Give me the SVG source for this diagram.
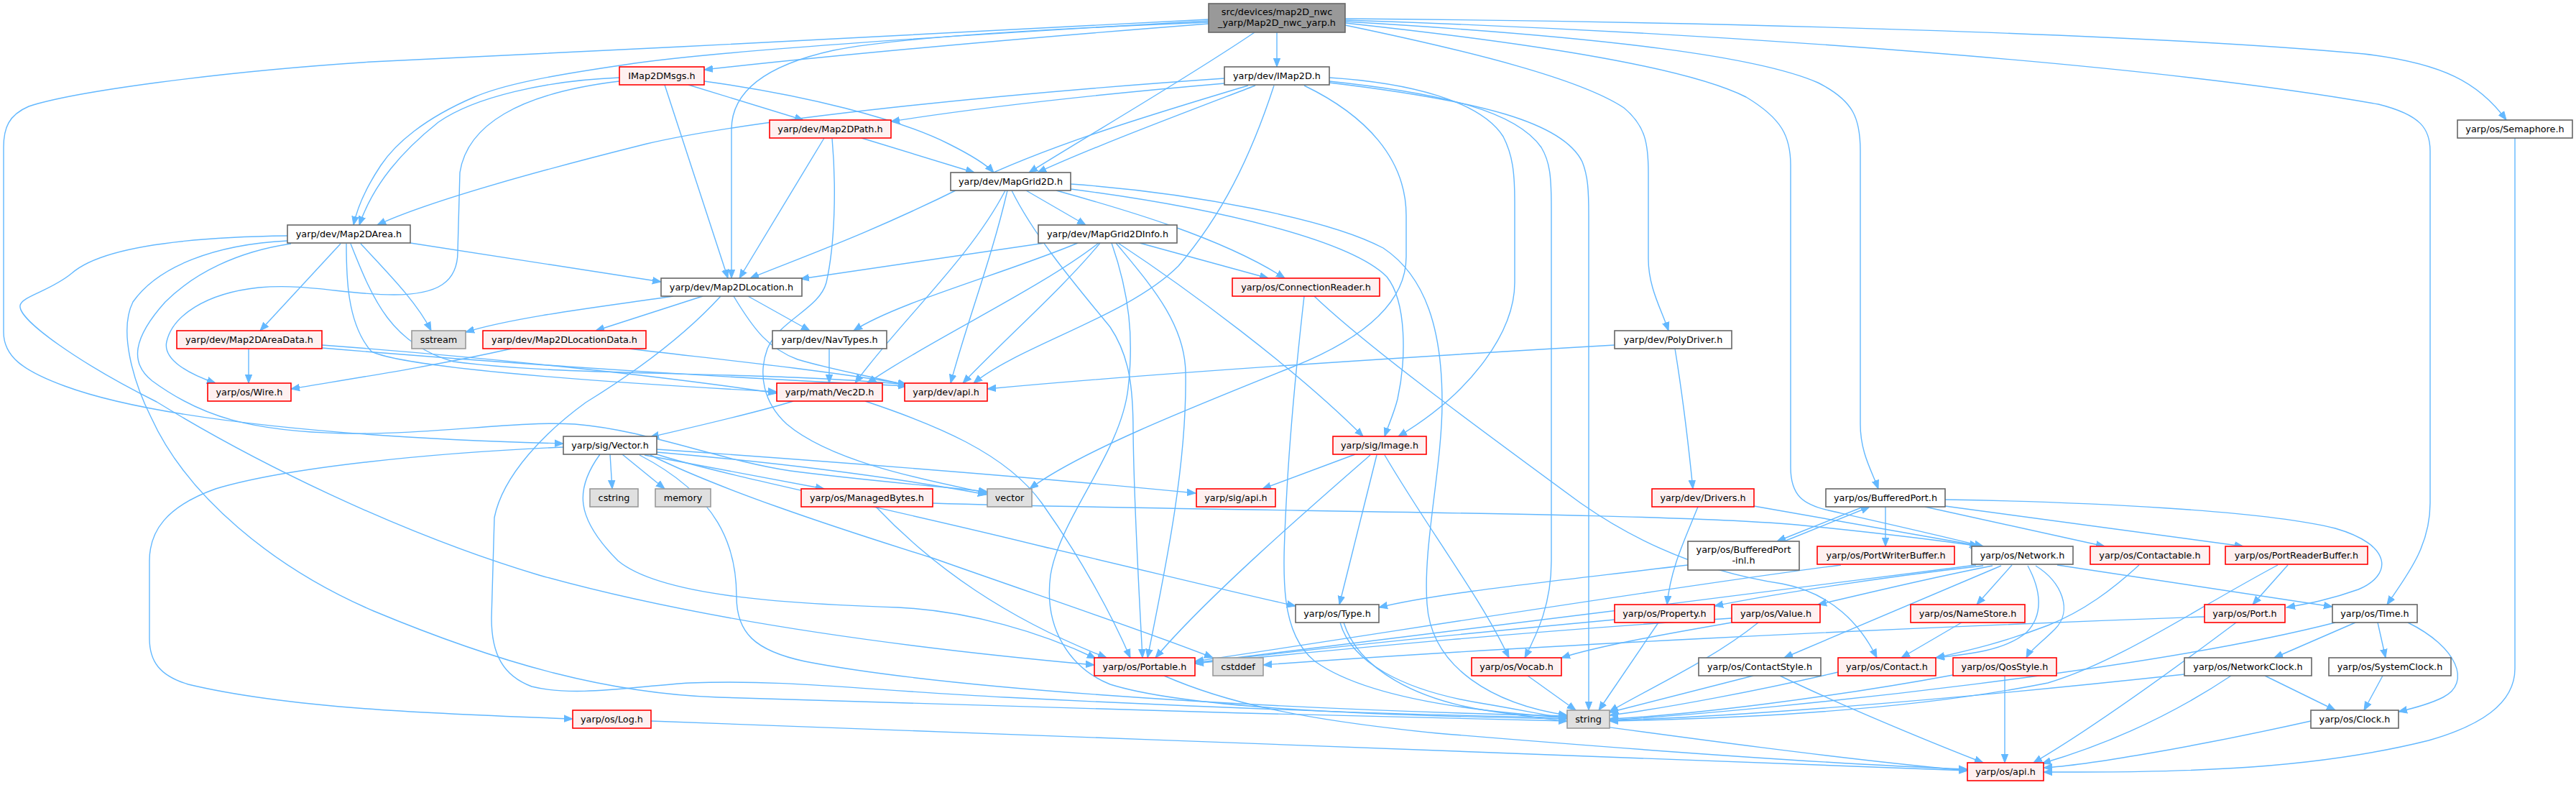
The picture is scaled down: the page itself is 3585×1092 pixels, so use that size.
<svg xmlns="http://www.w3.org/2000/svg" width="3585" height="1092" viewBox="0 0 3585 1092">
<style>
rect{stroke-width:1.6}
.w{fill:#ffffff;stroke:#666666}
.r{fill:#fff0f0;stroke:#ff0000}
.g{fill:#e0e0e0;stroke:#999999}
.root{fill:#999999;stroke:#666666}
text{font-family:"DejaVu Sans","Liberation Sans",sans-serif;font-size:12.8px;text-anchor:middle;fill:#000000}
#edges path{fill:none;stroke:#63b8ff;stroke-width:1.4;marker-end:url(#a)}
</style>
<defs>
<marker id="a" markerWidth="13" markerHeight="11" refX="12" refY="5.5" orient="auto" markerUnits="userSpaceOnUse">
<path d="M0,0.8 L12,5.5 L0,10.2 z" fill="#63b8ff" stroke="#63b8ff" stroke-width="1"/>
</marker>
</defs>
<rect width="3585" height="1092" fill="#ffffff"/>
<g id="edges">
<path d="M1682,27 C1400,42 900,68 517,86 C300,100 100,128 40,148 C12,160 5,178 5,205 L5,462 C5,495 30,515 90,537 C220,585 500,610 784,617"/>
<path d="M1682,29 C1350,48 1000,70 870,90 C760,106 700,118 660,135 C590,165 550,200 530,230 C510,260 498,285 492,313"/>
<path d="M1682,31 C1450,40 1250,52 1160,70 C1060,92 1018,130 1018,180 L1018,387"/>
<path d="M1682,33 C1400,55 1150,78 980,97"/>
<path d="M1746,45 C1650,110 1520,185 1432,240"/>
<path d="M1777,45 L1777,93"/>
<path d="M1872,26 C2400,30 3000,48 3290,75 C3400,88 3450,115 3488,167"/>
<path d="M1872,28 C2400,45 3000,90 3310,145 C3370,160 3382,180 3382,210 L3382,700 C3382,760 3350,800 3322,841"/>
<path d="M1872,30 C2250,52 2450,80 2530,115 C2580,140 2589,165 2589,210 L2589,590 C2589,630 2605,655 2614,680"/>
<path d="M1872,32 C2150,62 2350,95 2430,135 C2480,165 2492,190 2492,230 L2492,650 C2492,690 2510,702 2545,710 C2620,727 2700,745 2760,760"/>
<path d="M1872,35 C2050,72 2200,110 2260,150 C2290,175 2294,200 2294,240 L2294,360 C2294,400 2312,430 2322,460"/>
<path d="M980,113 C1120,132 1250,165 1320,200 C1350,215 1372,228 1383,240"/>
<path d="M958,118 L1118,167"/>
<path d="M925,118 L1013,387"/>
<path d="M862,108 C760,112 660,135 610,170 C560,210 520,255 500,313"/>
<path d="M862,113 C720,130 650,175 640,240 L637,350 C637,392 610,410 548,410 C480,410 430,394 360,400 C285,408 240,440 232,475 C226,500 262,520 300,533"/>
<path d="M1704,109 C1400,130 1050,165 900,200 C760,235 600,278 525,313"/>
<path d="M1704,116 C1520,132 1360,150 1240,169"/>
<path d="M1737,119 C1600,160 1450,205 1340,260 C1210,325 1110,360 1044,387"/>
<path d="M1747,119 C1640,160 1520,205 1444,240"/>
<path d="M1773,119 C1740,220 1700,300 1640,370 C1570,440 1420,480 1355,533"/>
<path d="M1815,119 C1900,160 1957,220 1957,300 L1957,357 C1957,420 1900,470 1800,510 C1650,570 1500,630 1433,680"/>
<path d="M1850,108 C1960,115 2060,140 2092,190 C2105,215 2108,240 2108,280 L2108,393 C2108,460 2050,545 1946,607"/>
<path d="M1850,113 C2010,130 2110,155 2145,205 C2157,225 2159,245 2159,290 L2159,780 C2159,840 2140,880 2122,915"/>
<path d="M1850,115 C2060,140 2175,170 2202,225 C2210,245 2211,265 2211,300 L2211,988"/>
<path d="M1199,192 L1356,240"/>
<path d="M1147,192 L1029,387"/>
<path d="M1158,192 C1164,260 1162,340 1150,393 C1140,430 1085,445 1068,485 C1055,520 1062,560 1095,590 C1160,645 1300,670 1374,686"/>
<path d="M1428,265 L1511,313"/>
<path d="M1399,265 C1350,360 1250,450 1190,533"/>
<path d="M1402,265 C1380,360 1345,450 1323,533"/>
<path d="M1408,265 C1440,330 1500,400 1545,455 C1572,495 1577,540 1577,600 C1578,700 1585,820 1590,915"/>
<path d="M1470,265 C1560,290 1700,330 1788,387"/>
<path d="M1490,263 C1700,290 1880,335 1930,385 C1958,420 1957,500 1945,555 C1940,575 1932,592 1927,607"/>
<path d="M1490,256 C1660,268 1850,305 1925,345 C1985,385 2007,460 2007,560 C2007,650 1980,760 1986,840 C1992,930 2080,980 2181,995"/>
<path d="M1454,338 C1300,360 1200,375 1114,388"/>
<path d="M1500,338 C1400,380 1250,420 1188,460"/>
<path d="M1529,338 C1450,400 1300,470 1207,533"/>
<path d="M1531,338 C1480,400 1400,470 1340,533"/>
<path d="M1556,338 C1650,400 1800,510 1897,607"/>
<path d="M1586,338 L1765,387"/>
<path d="M1547,338 C1572,410 1578,470 1570,540 C1560,630 1475,720 1462,800 C1452,875 1490,930 1545,952 C1650,985 1900,995 2181,1000"/>
<path d="M1553,338 C1600,395 1650,450 1650,520 C1652,650 1620,800 1597,915"/>
<path d="M474,339 L362,460"/>
<path d="M502,339 C540,380 580,420 600,460"/>
<path d="M571,338 L920,392"/>
<path d="M482,339 C482,380 482,450 517,489 C560,510 800,530 1081,545"/>
<path d="M488,339 C520,420 545,478 631,503 C800,525 1050,515 1262,535"/>
<path d="M400,328 C250,330 140,345 100,380 C70,405 30,412 28,425 C25,445 110,505 218,559 C350,640 550,740 750,800 C1000,870 1300,905 1523,925"/>
<path d="M400,335 C300,340 220,370 185,420 C165,460 185,530 210,580 C260,690 380,790 520,850 C700,925 850,965 1000,970 C1300,980 1800,995 2181,1003"/>
<path d="M405,339 C330,350 270,380 230,420 C185,470 180,505 212,530 C280,580 350,600 480,603 C600,605 720,585 800,590 C900,598 1000,640 1100,655 C1200,668 1300,676 1374,684"/>
<path d="M937,412 C850,425 720,440 648,462"/>
<path d="M978,412 L829,460"/>
<path d="M1003,412 C950,470 880,520 815,560 C760,600 700,660 688,720 L684,860 C684,910 700,940 740,955 C800,970 880,955 960,950 C1100,945 1200,960 1400,970 C1700,985 1950,995 2181,998"/>
<path d="M1021,412 C1050,460 1070,485 1110,500 C1160,515 1220,525 1262,536"/>
<path d="M1041,412 L1127,460"/>
<path d="M346,485 L346,533"/>
<path d="M448,480 C650,495 900,520 1081,547"/>
<path d="M448,484 C700,505 1000,525 1262,537"/>
<path d="M712,485 C600,510 500,525 405,541"/>
<path d="M875,485 C1000,500 1150,515 1262,535"/>
<path d="M1154,485 L1154,533"/>
<path d="M2247,480 C1900,500 1600,520 1374,541"/>
<path d="M2331,485 C2340,540 2350,620 2356,680"/>
<path d="M1104,558 C1050,575 960,595 905,608"/>
<path d="M1204,558 C1300,590 1400,630 1450,700 C1500,770 1545,850 1573,915"/>
<path d="M849,632 L852,680"/>
<path d="M866,632 L925,680"/>
<path d="M897,633 L1147,680"/>
<path d="M914,629 C1100,645 1250,665 1373,688"/>
<path d="M914,625 C1200,645 1450,665 1664,686"/>
<path d="M835,632 C800,680 800,720 860,780 C920,830 1100,840 1250,845 C1350,850 1450,880 1525,916"/>
<path d="M784,622 C600,630 400,650 300,680 C230,705 208,740 208,780 L208,888 C208,920 222,940 262,952 C400,985 600,993 797,1000"/>
<path d="M914,632 C1000,660 1250,710 1450,760 C1600,795 1700,820 1803,843"/>
<path d="M890,633 C1000,690 1025,760 1025,830 C1025,880 1050,905 1120,920 C1300,955 1700,985 2181,996"/>
<path d="M905,633 C1000,680 1150,730 1300,777 C1450,830 1600,880 1688,915"/>
<path d="M1886,632 L1757,680"/>
<path d="M1907,633 C1830,700 1680,830 1608,915"/>
<path d="M1916,633 L1864,841"/>
<path d="M1927,633 C1990,740 2060,830 2100,915"/>
<path d="M1219,705 C1300,790 1400,860 1540,915"/>
<path d="M1298,700 C1700,712 2300,712 2500,730 C2600,740 2700,752 2755,760"/>
<path d="M2593,705 L2473,753"/>
<path d="M2624,705 L2624,760"/>
<path d="M2679,705 L2929,760"/>
<path d="M2707,704 L3122,760"/>
<path d="M2707,695 C2900,698 3150,710 3250,735 C3330,758 3330,800 3282,820 C3240,835 3210,840 3182,845"/>
<path d="M2483,753 L2602,705"/>
<path d="M2349,786 C2150,810 2000,825 1919,845"/>
<path d="M2562,786 C2300,820 1900,885 1663,920"/>
<path d="M2863,786 L3246,844"/>
<path d="M2800,786 L2751,841"/>
<path d="M2822,787 C2840,820 2845,855 2820,880 C2790,905 2740,910 2694,915"/>
<path d="M2833,787 C2870,810 2885,850 2860,875 C2840,895 2825,905 2820,915"/>
<path d="M2785,787 L2483,915"/>
<path d="M2773,787 C2680,805 2600,825 2530,841"/>
<path d="M2760,787 C2600,805 2450,830 2386,843"/>
<path d="M2750,786 C2400,830 1900,895 1663,922"/>
<path d="M2441,704 L2753,759"/>
<path d="M2363,705 C2345,750 2325,790 2320,841"/>
<path d="M1865,866 C1880,920 1950,960 2060,978 C2120,988 2150,995 2181,999"/>
<path d="M1870,866 C1890,930 1970,975 2080,990 C2300,1020 2550,1055 2738,1072"/>
<path d="M2308,866 L2225,988"/>
<path d="M2247,862 C2000,885 1800,905 1663,923"/>
<path d="M2410,866 C2300,885 2220,900 2173,915"/>
<path d="M2447,866 C2380,920 2290,960 2240,990"/>
<path d="M2410,860 C2100,880 1850,905 1663,923"/>
<path d="M2730,866 L2646,915"/>
<path d="M3112,866 C3000,950 2900,1020 2830,1061"/>
<path d="M3068,858 C2600,875 2100,900 1758,925"/>
<path d="M3278,866 L3165,915"/>
<path d="M3309,866 L3320,915"/>
<path d="M3351,866 C3420,900 3440,950 3400,970 C3380,980 3360,985 3338,990"/>
<path d="M3250,866 C3000,930 2500,985 2240,1002"/>
<path d="M2977,786 C2940,820 2900,850 2850,870 C2790,893 2740,905 2694,915"/>
<path d="M3184,786 L3135,841"/>
<path d="M3170,786 C3050,850 2950,920 2850,950 C2650,990 2400,1000 2240,1003"/>
<path d="M2440,940 L2240,991"/>
<path d="M2477,940 C2560,980 2680,1030 2760,1061"/>
<path d="M2558,935 C2450,960 2320,985 2240,995"/>
<path d="M2790,940 L2790,1061"/>
<path d="M2718,939 C2550,970 2350,995 2240,1000"/>
<path d="M3152,940 L3250,988"/>
<path d="M3105,940 C3000,1010 2900,1045 2842,1062"/>
<path d="M3040,938 C2700,975 2400,998 2240,1002"/>
<path d="M3316,940 L3290,988"/>
<path d="M3216,1003 C3050,1040 2900,1065 2844,1068"/>
<path d="M3500,192 L3500,930 C3500,980 3450,1010 3380,1030 C3200,1075 3000,1074 2844,1074"/>
<path d="M906,1003 C1500,1025 2300,1055 2738,1072"/>
<path d="M1620,940 C1700,975 1800,1000 2000,1020 C2300,1045 2550,1063 2738,1070"/>
<path d="M2126,940 L2193,988"/>
<path d="M1815,412 C1805,500 1795,600 1790,700 C1785,800 1780,880 1830,920 C1900,970 2050,990 2181,998"/>
<path d="M1829,412 C1900,480 2050,590 2200,700 C2300,770 2400,800 2480,812 C2550,825 2590,870 2612,915"/>
</g>
<g id="n_src"><rect class="root" x="1682" y="5" width="190" height="40"/><text x="1777" y="21">src/devices/map2D_nwc</text><text x="1777" y="36">_yarp/Map2D_nwc_yarp.h</text></g>
<g id="n_IMap2DMsgs"><rect class="r" x="862" y="93" width="118" height="25"/><text x="921" y="110">IMap2DMsgs.h</text></g>
<g id="n_IMap2D"><rect class="w" x="1704" y="93" width="146" height="25"/><text x="1777" y="110">yarp/dev/IMap2D.h</text></g>
<g id="n_Map2DPath"><rect class="r" x="1071" y="167" width="169" height="25"/><text x="1155.5" y="184">yarp/dev/Map2DPath.h</text></g>
<g id="n_Semaphore"><rect class="w" x="3420" y="167" width="160" height="25"/><text x="3500" y="184">yarp/os/Semaphore.h</text></g>
<g id="n_MapGrid2D"><rect class="w" x="1323" y="240" width="167" height="25"/><text x="1406.5" y="257">yarp/dev/MapGrid2D.h</text></g>
<g id="n_Map2DArea"><rect class="w" x="400" y="313" width="171" height="25"/><text x="485.5" y="330">yarp/dev/Map2DArea.h</text></g>
<g id="n_MapGrid2DInfo"><rect class="w" x="1445" y="313" width="193" height="25"/><text x="1541.5" y="330">yarp/dev/MapGrid2DInfo.h</text></g>
<g id="n_Map2DLocation"><rect class="w" x="920" y="387" width="196" height="25"/><text x="1018" y="404">yarp/dev/Map2DLocation.h</text></g>
<g id="n_ConnectionReader"><rect class="r" x="1715" y="387" width="205" height="25"/><text x="1817.5" y="404">yarp/os/ConnectionReader.h</text></g>
<g id="n_Map2DAreaData"><rect class="r" x="246" y="460" width="202" height="25"/><text x="347" y="477">yarp/dev/Map2DAreaData.h</text></g>
<g id="n_sstream"><rect class="g" x="573" y="460" width="75" height="25"/><text x="610.5" y="477">sstream</text></g>
<g id="n_Map2DLocationData"><rect class="r" x="672" y="460" width="227" height="25"/><text x="785.5" y="477">yarp/dev/Map2DLocationData.h</text></g>
<g id="n_NavTypes"><rect class="w" x="1075" y="460" width="159" height="25"/><text x="1154.5" y="477">yarp/dev/NavTypes.h</text></g>
<g id="n_PolyDriver"><rect class="w" x="2247" y="460" width="163" height="25"/><text x="2328.5" y="477">yarp/dev/PolyDriver.h</text></g>
<g id="n_Wire"><rect class="r" x="289" y="533" width="116" height="25"/><text x="347" y="550">yarp/os/Wire.h</text></g>
<g id="n_Vec2D"><rect class="r" x="1081" y="533" width="147" height="25"/><text x="1154.5" y="550">yarp/math/Vec2D.h</text></g>
<g id="n_devapi"><rect class="r" x="1259" y="533" width="115" height="25"/><text x="1316.5" y="550">yarp/dev/api.h</text></g>
<g id="n_Vector"><rect class="w" x="784" y="607" width="130" height="25"/><text x="849" y="624">yarp/sig/Vector.h</text></g>
<g id="n_Image"><rect class="r" x="1855" y="607" width="130" height="25"/><text x="1920" y="624">yarp/sig/Image.h</text></g>
<g id="n_cstring"><rect class="g" x="821" y="680" width="67" height="25"/><text x="854.5" y="697">cstring</text></g>
<g id="n_memory"><rect class="g" x="912" y="680" width="77" height="25"/><text x="950.5" y="697">memory</text></g>
<g id="n_ManagedBytes"><rect class="r" x="1115" y="680" width="183" height="25"/><text x="1206.5" y="697">yarp/os/ManagedBytes.h</text></g>
<g id="n_vector"><rect class="g" x="1374" y="680" width="62" height="25"/><text x="1405" y="697">vector</text></g>
<g id="n_sigapi"><rect class="r" x="1665" y="680" width="110" height="25"/><text x="1720" y="697">yarp/sig/api.h</text></g>
<g id="n_Drivers"><rect class="r" x="2299" y="680" width="142" height="25"/><text x="2370" y="697">yarp/dev/Drivers.h</text></g>
<g id="n_BufferedPort"><rect class="w" x="2541" y="680" width="166" height="25"/><text x="2624" y="697">yarp/os/BufferedPort.h</text></g>
<g id="n_BufferedPortInl"><rect class="w" x="2349" y="753" width="155" height="40"/><text x="2426.5" y="769">yarp/os/BufferedPort</text><text x="2426.5" y="784">-inl.h</text></g>
<g id="n_PortWriterBuffer"><rect class="r" x="2529" y="760" width="191" height="25"/><text x="2624.5" y="777">yarp/os/PortWriterBuffer.h</text></g>
<g id="n_Network"><rect class="w" x="2744" y="760" width="141" height="25"/><text x="2814.5" y="777">yarp/os/Network.h</text></g>
<g id="n_Contactable"><rect class="r" x="2909" y="760" width="166" height="25"/><text x="2992" y="777">yarp/os/Contactable.h</text></g>
<g id="n_PortReaderBuffer"><rect class="r" x="3097" y="760" width="198" height="25"/><text x="3196" y="777">yarp/os/PortReaderBuffer.h</text></g>
<g id="n_Type"><rect class="w" x="1803" y="841" width="116" height="25"/><text x="1861" y="858">yarp/os/Type.h</text></g>
<g id="n_Property"><rect class="r" x="2247" y="841" width="139" height="25"/><text x="2316.5" y="858">yarp/os/Property.h</text></g>
<g id="n_Value"><rect class="r" x="2410" y="841" width="123" height="25"/><text x="2471.5" y="858">yarp/os/Value.h</text></g>
<g id="n_NameStore"><rect class="r" x="2659" y="841" width="159" height="25"/><text x="2738.5" y="858">yarp/os/NameStore.h</text></g>
<g id="n_Port"><rect class="r" x="3068" y="841" width="112" height="25"/><text x="3124" y="858">yarp/os/Port.h</text></g>
<g id="n_Time"><rect class="w" x="3246" y="841" width="118" height="25"/><text x="3305" y="858">yarp/os/Time.h</text></g>
<g id="n_Portable"><rect class="r" x="1523" y="915" width="140" height="25"/><text x="1593" y="932">yarp/os/Portable.h</text></g>
<g id="n_cstddef"><rect class="g" x="1688" y="915" width="70" height="25"/><text x="1723" y="932">cstddef</text></g>
<g id="n_Vocab"><rect class="r" x="2048" y="915" width="125" height="25"/><text x="2110.5" y="932">yarp/os/Vocab.h</text></g>
<g id="n_ContactStyle"><rect class="w" x="2364" y="915" width="170" height="25"/><text x="2449" y="932">yarp/os/ContactStyle.h</text></g>
<g id="n_Contact"><rect class="r" x="2558" y="915" width="136" height="25"/><text x="2626" y="932">yarp/os/Contact.h</text></g>
<g id="n_QosStyle"><rect class="r" x="2718" y="915" width="144" height="25"/><text x="2790" y="932">yarp/os/QosStyle.h</text></g>
<g id="n_NetworkClock"><rect class="w" x="3040" y="915" width="177" height="25"/><text x="3128.5" y="932">yarp/os/NetworkClock.h</text></g>
<g id="n_SystemClock"><rect class="w" x="3241" y="915" width="170" height="25"/><text x="3326" y="932">yarp/os/SystemClock.h</text></g>
<g id="n_Log"><rect class="r" x="797" y="988" width="109" height="25"/><text x="851.5" y="1005">yarp/os/Log.h</text></g>
<g id="n_string"><rect class="g" x="2181" y="988" width="59" height="25"/><text x="2210.5" y="1005">string</text></g>
<g id="n_Clock"><rect class="w" x="3216" y="988" width="122" height="25"/><text x="3277" y="1005">yarp/os/Clock.h</text></g>
<g id="n_osapi"><rect class="r" x="2738" y="1061" width="106" height="25"/><text x="2791" y="1078">yarp/os/api.h</text></g>
</svg>
